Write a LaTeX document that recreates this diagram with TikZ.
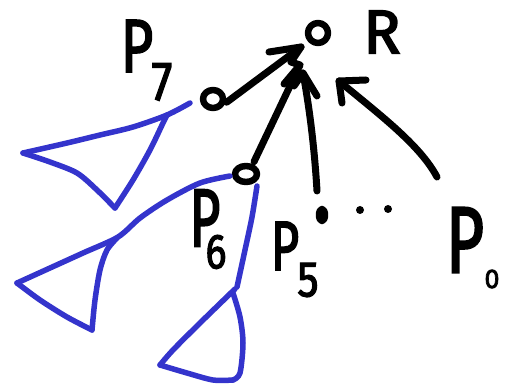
\documentclass[tikz,border=0pt]{standalone}
\usepackage{fontspec}
\usepackage{graphicx}
\setmainfont{Fira Sans}
\newfontfamily\handfont{Fira Sans}[FakeBold=2.5]
\usetikzlibrary{shapes.geometric}
\definecolor{treeblue}{RGB}{52,52,204}
\begin{document}
\begin{tikzpicture}[x=1pt,y=-1pt,
  ink/.style={line width=7pt, line cap=round, line join=round, black},
  tree/.style={line width=5.5pt, line cap=round, line join=round, treeblue},
  vert/.style={ellipse, inner sep=0pt, outer sep=3pt},
  lbl/.style={inner sep=0pt, font=\handfont\fontsize{#1}{#1}\selectfont},
  lbl/.default=75]
\useasboundingbox (0,0) rectangle (516,387);

% vertices (named nodes, outlines drawn below)
\node[vert, minimum width=20pt, minimum height=18pt] (p7) at (213,99) {};
\node[vert, minimum width=20pt, minimum height=20pt] (r) at (318,33) {};
\node[vert, minimum width=22pt, minimum height=16pt] (p6) at (246,174) {};
\node[vert, minimum width=6pt, minimum height=12pt] (p5) at (322,215) {};
\node[circle, inner sep=0pt, minimum size=8pt] (d1) at (360,210) {};
\node[circle, inner sep=0pt, minimum size=8pt] (d2) at (388,209) {};
\draw[ink, line width=6.5pt] (p7.center) ellipse [x radius=10pt, y radius=9pt];
\draw[ink, line width=6.5pt] (r.center) ellipse [x radius=10pt, y radius=10pt];
\draw[ink, line width=6.5pt] (p6.center) ellipse [x radius=11pt, y radius=8pt];
\draw[ink, line width=6.5pt] (p5.center) ellipse [x radius=3pt, y radius=6pt];
\fill (d1.center) circle [radius=4pt];
\fill (d2.center) circle [radius=4pt];

% labels
\node[lbl=75] (l7) at (137,46) {\scalebox{0.75}[1]{P}};
\node[lbl=55] (l7s) at (162,82) {\scalebox{0.85}[1]{7}};
\node[lbl=62] (lr) at (382,32) {R};
\node[lbl=82] (l6) at (205,218) {\scalebox{0.65}[1]{P}};
\node[lbl=49] (l6s) at (216,252) {\scalebox{0.8}[1]{6}};
\node[lbl=70] (l5) at (285,246) {\scalebox{0.7}[1]{P}};
\node[lbl=50] (l5s) at (308,280) {\scalebox{0.85}[1]{5}};
\node[lbl=94] (l0) at (465,240) {\scalebox{0.7}[1]{P}};
\node[lbl=27] (l0s) at (492,279) {0};

% arrow tips
\coordinate (t1) at (301,47);
\coordinate (t2) at (300,65);
\coordinate (t3) at (303,73);
\coordinate (t4) at (339,81);
\coordinate (s4) at (437,177);

% arrow 1 (P7 -> R)
\draw[ink, shorten <=2pt] (p7.-20) -- (t1);
\draw[ink] (269,52) -- (t1) -- (291,62);
% arrow 2 (P6 -> R)
\draw[ink, shorten <=3pt] (p6.55) -- (t2);
\draw[ink] (284,84) -- (t2) -- (291,62);
% arrow 3 (P5 -> R)
\draw[ink] (p5.north) ++(-5,-15) .. controls (314,140) and (308,100) .. (t3);
\draw[ink] (294,86) -- (t3) -- (317,96);
% arrow 4 (P0 -> R)
\draw[ink] (s4) .. controls (420,145) and (380,115) .. (t4);
\draw[ink] (366,80) -- (t4) -- (342,103);

% subtree of P7
\draw[tree] plot[smooth] coordinates {(190,103) (167,115) (133,127) (100,135) (67,143) (23,153)};
\draw[tree] plot[smooth] coordinates {(23,153) (50,162) (77,173) (97,190) (115,208)};
\draw[tree] plot[smooth] coordinates {(115,208) (133,180) (150,150) (163,123) (167,115)};

% first subtree of P6
\draw[tree] plot[smooth] coordinates {(230,176) (200,183) (167,200) (140,218) (118,237) (83,253) (50,268) (17,283)};
\draw[tree] plot[smooth] coordinates {(17,283) (40,300) (67,317) (92,330)};
\draw[tree] plot[smooth] coordinates {(92,330) (95,300) (100,270) (107,250) (117,238)};

% second subtree of P6
\draw[tree] plot[smooth] coordinates {(257,186) (252,217) (245,250) (237,287)};
\draw[tree] plot[smooth] coordinates {(235,289) (200,323) (173,350) (160,365)};
\draw[tree] plot[smooth] coordinates {(160,365) (187,373) (213,380) (233,380)};
\draw[tree] plot[smooth] coordinates {(233,380) (240,373) (243,343) (240,317) (233,293)};
\end{tikzpicture}
\end{document}
